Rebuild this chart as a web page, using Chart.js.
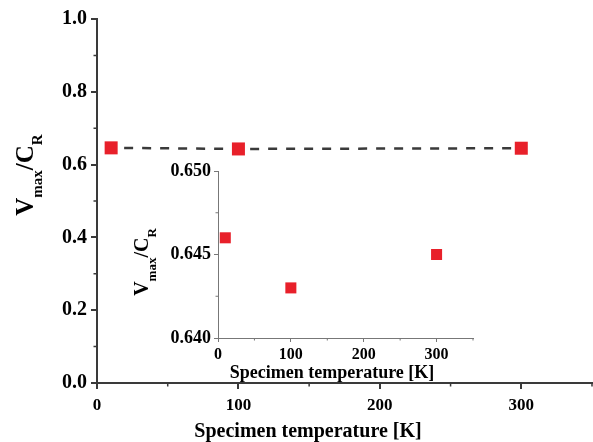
<!DOCTYPE html>
<html><head><meta charset="utf-8">
<script src="https://cdn.jsdelivr.net/npm/chart.js@4/dist/chart.umd.min.js"></script>
<style>
html,body{margin:0;padding:0;background:#fff;}
#wrap{position:relative;width:593px;height:442px;overflow:hidden;}
#main{position:absolute;left:0;top:0;}
#inset{position:absolute;left:120px;top:150px;}
</style></head><body>
<div id="wrap"><canvas id="main" width="593" height="442"></canvas><canvas id="inset" width="360" height="235"></canvas></div>
<script>
// ---- data ----
const temperatures = [10, 100, 300];
const ratios = [0.646, 0.643, 0.645];
const mainXTicks = [0, 100, 200, 300];
const mainXMinor = [50, 150, 250, 350];
const mainYTicks = [0.0, 0.2, 0.4, 0.6, 0.8, 1.0];
const mainYMinor = [0.1, 0.3, 0.5, 0.7, 0.9];
const insetXTicks = [0, 100, 200, 300];
const insetXMinor = [50, 150, 250, 350];
const insetYTicks = [0.640, 0.645, 0.650];
const insetYMinor = [0.6425, 0.6475];
const xTitle = 'Specimen temperature [K]';
const yTitleParts = [['V', false], ['max', true], ['/C', false], ['R', true]];

const FONT = '"Liberation Serif", "Times New Roman", serif';
const RED = '#e8202a';

function titlePlugin(cfg) {
  return {
    id: 'titles',
    afterDraw(chart) {
      const ctx = chart.ctx, a = chart.chartArea;
      ctx.save();
      ctx.fillStyle = '#000';
      ctx.font = `bold ${cfg.xSize}px ${FONT}`;
      ctx.textAlign = 'center';
      ctx.textBaseline = 'alphabetic';
      ctx.fillText(xTitle, a.left + cfg.xCenter, a.bottom + cfg.xBase);
      const big = `bold ${cfg.ySize}px ${FONT}`, small = `bold ${cfg.subSize}px ${FONT}`;
      let w = 0;
      for (const [t, s] of yTitleParts) { ctx.font = s ? small : big; w += ctx.measureText(t).width; }
      ctx.translate(a.left - cfg.yBase, a.top + cfg.yCenter);
      ctx.rotate(-Math.PI / 2);
      ctx.textAlign = 'left';
      let x = -w / 2;
      for (const [t, s] of yTitleParts) {
        ctx.font = s ? small : big;
        ctx.fillText(t, x, s ? cfg.subOff : 0);
        x += ctx.measureText(t).width;
      }
      ctx.restore();
    }
  };
}

function minorPlugin(xMinor, yMinor, len, color, width) {
  return {
    id: 'minor',
    afterDraw(chart) {
      const ctx = chart.ctx, xs = chart.scales.x, ys = chart.scales.y, a = chart.chartArea;
      ctx.save();
      ctx.strokeStyle = color; ctx.lineWidth = width;
      ctx.beginPath();
      for (const v of xMinor) { const p = xs.getPixelForValue(v); ctx.moveTo(p, a.bottom); ctx.lineTo(p, a.bottom + len); }
      for (const v of yMinor) { const p = ys.getPixelForValue(v); ctx.moveTo(a.left, p); ctx.lineTo(a.left - len, p); }
      ctx.stroke();
      ctx.restore();
    }
  };
}

const points = temperatures.map((t, i) => ({ x: t, y: ratios[i] }));

function axisOpts(o) {
  return {
    type: 'linear',
    position: o.position,
    min: o.min, max: o.max,
    afterBuildTicks: (s) => { s.ticks = o.ticks.map(v => ({ value: v })); },
    afterFit: (s) => {
      if (o.position === 'left') { s.width = o.size; s.paddingTop = 0; s.paddingBottom = 0; }
      else { s.height = o.size; s.paddingLeft = 0; s.paddingRight = 0; }
    },
    border: { display: true, color: o.color, width: o.lw },
    grid: { display: true, drawOnChartArea: false, drawTicks: true, tickLength: o.tickLen, color: o.color, lineWidth: o.lw },
    ticks: {
      color: '#000', padding: o.pad,
      font: { family: FONT, size: o.fs, weight: 'bold' },
      callback: (v) => o.fmt(v),
      maxRotation: 0, autoSkip: false
    }
  };
}

new Chart(document.getElementById('main'), {
  type: 'scatter',
  data: { datasets: [{
    data: points,
    showLine: true,
    borderColor: '#3a3a3a', borderWidth: 2.5, borderDash: [9, 9], borderDashOffset: 5,
    pointStyle: 'rect', pointRadius: 9.2, pointBackgroundColor: RED, pointBorderWidth: 0, pointBorderColor: RED
  }] },
  options: {
    responsive: false, animation: false,
    layout: { autoPadding: false, padding: { left: 0, top: 19, right: 1, bottom: 0 } },
    plugins: { legend: { display: false }, tooltip: { enabled: false } },
    scales: {
      x: axisOpts({ position: 'bottom', min: 0, max: 350, ticks: mainXTicks, size: 59, color: '#3a3a3a', lw: 2, tickLen: 6, pad: 6, fs: 17, fmt: v => String(v) }),
      y: axisOpts({ position: 'left', min: 0, max: 1, ticks: mainYTicks, size: 97, color: '#3a3a3a', lw: 2, tickLen: 6, pad: 4, fs: 20, fmt: v => v.toFixed(1) })
    }
  },
  plugins: [minorPlugin(mainXMinor, mainYMinor, 3.5, '#3a3a3a', 1.5),
    titlePlugin({ xSize: 20, xCenter: 211, xBase: 54, ySize: 25, subSize: 15, subOff: 9, yBase: 64, yCenter: 156 })]
});

new Chart(document.getElementById('inset'), {
  type: 'scatter',
  data: { datasets: [{
    data: points,
    showLine: false,
    pointStyle: 'rect', pointRadius: 7.8, pointBackgroundColor: RED, pointBorderWidth: 0, pointBorderColor: RED
  }] },
  options: {
    responsive: false, animation: false,
    layout: { autoPadding: false, padding: { left: 0, top: 21, right: 7, bottom: 0 } },
    plugins: { legend: { display: false }, tooltip: { enabled: false } },
    scales: {
      x: axisOpts({ position: 'bottom', min: 0, max: 350, ticks: insetXTicks, size: 47, color: '#777', lw: 1, tickLen: 4, pad: 3, fs: 16, fmt: v => String(v) }),
      y: axisOpts({ position: 'left', min: 0.640, max: 0.650, ticks: insetYTicks, size: 98, color: '#777', lw: 1, tickLen: 4, pad: 3, fs: 18, fmt: v => v.toFixed(3) })
    }
  },
  plugins: [minorPlugin(insetXMinor, insetYMinor, 2.5, '#777', 1),
    titlePlugin({ xSize: 18, xCenter: 114, xBase: 40, ySize: 20, subSize: 13, subOff: 8, yBase: 70, yCenter: 91 })]
});
</script>
</body></html>
